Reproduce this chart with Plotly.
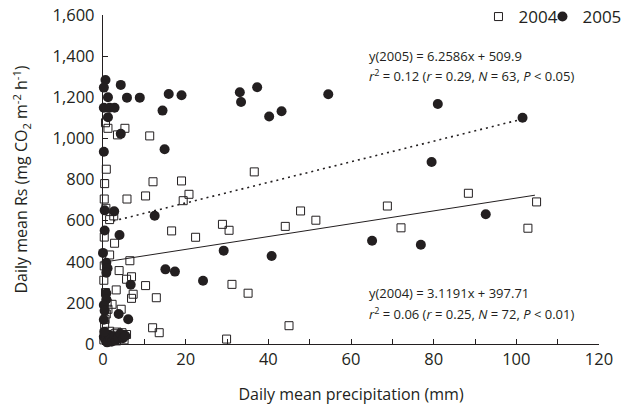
import plotly.graph_objects as go

# 2004 data (open squares)
x2004 = [0.6, 1.2, 3.5, 5.3, 11.3, 0.8, 0.4, 12.1, 19.0, 5.8, 10.3, 20.8, 19.4, 36.6,
         0.7, 2.6, 1.6, 16.6, 22.4, 28.9, 30.5, 44.1, 47.8, 51.5, 68.8, 72.1, 88.4,
         104.9, 102.8, 2.8, 1.6, 6.5, 3.9, 5.7, 6.9, 10.3, 3.2, 7.3, 6.9, 12.9, 31.2,
         35.1, 2.2, 4.4, 1.2, 0.8, 12.0, 13.6, 29.9, 45.0, 1.6, 3.4, 5.7,
         0.2, 0.5, 0.9, 1.3, 1.9, 2.4, 2.9, 3.3, 4.0, 4.6, 5.1, 0.4, 0.3, 0.6, 0.3,
         0.2, 0.5, 1.0, 0.3]
y2004 = [1076, 1049, 1017, 1049, 1012, 850, 780, 789, 793, 705, 720, 728, 697, 837,
         660, 623, 605, 550, 519, 582, 553, 572, 647, 602, 671, 565, 733,
         691, 563, 490, 433, 405, 357, 315, 327, 284, 263, 242, 222, 225, 290,
         247, 193, 169, 169, 146, 79, 55, 24, 89, 62, 58, 46,
         20, 45, 30, 10, 38, 25, 50, 15, 35, 55, 20, 95, 380, 250, 520,
         310, 120, 200, 705]

# 2005 data (filled circles)
x2005 = [0.6, 0.2, 4.3, 1.2, 5.8, 8.9, 15.9, 19.0, 0.2, 1.6, 2.8, 14.4, 1.2, 4.3,
         14.9, 0.2, 33.1, 33.4, 37.3, 40.2, 43.2, 54.5, 81.0, 101.5, 79.5, 92.6,
         76.9, 65.1, 40.8, 29.2, 24.2, 12.5, 15.1, 17.4, 0.4, 2.7, 0.4, 4.0, 0.0,
         0.8, 1.1, 0.8, 6.7, 0.8, 0.8, 0.2, 0.4, 3.8, 0.2, 6.1,
         0.2, 0.6, 1.0, 1.4, 1.8, 2.2, 2.7, 3.1, 3.6, 4.2, 4.8, 5.4, 0.3]
y2005 = [1284, 1247, 1260, 1200, 1198, 1198, 1216, 1210, 1149, 1149, 1149, 1135, 1103, 1022,
         947, 935, 1224, 1177, 1249, 1106, 1132, 1215, 1167, 1100, 885, 631,
         483, 502, 428, 454, 308, 624, 363, 352, 650, 645, 552, 530, 443,
         395, 368, 347, 288, 247, 217, 190, 162, 146, 118, 120,
         35, 20, 8, 45, 25, 12, 38, 18, 30, 50, 28, 40, 60]

# fitted lines as drawn (end points)
fit2004_x = [1.6, 104.5]
fit2004_y = [402.7, 723.7]
fit2005_x = [2.5, 101.5]
fit2005_y = [598, 1094]

x_ticks = [0, 20, 40, 60, 80, 100, 120]
y_ticks = [0, 200, 400, 600, 800, 1000, 1200, 1400, 1600]

INK = "#231f20"
FONT = "Open Sans"

fig = go.Figure()
fig.add_trace(go.Scatter(x=fit2004_x, y=fit2004_y, mode="lines",
                         line=dict(color=INK, width=1), showlegend=False))
fig.add_trace(go.Scatter(x=fit2005_x, y=fit2005_y, mode="lines",
                         line=dict(color=INK, width=1.6, dash="2px,4px"), showlegend=False))
fig.add_trace(go.Scatter(x=x2004, y=y2004, mode="markers", name="2004",
                         marker=dict(symbol="square-open", size=8, color=INK,
                                     line=dict(width=1, color=INK)),
                         cliponaxis=False, legend="legend"))
fig.add_trace(go.Scatter(x=x2005, y=y2005, mode="markers", name="2005",
                         marker=dict(symbol="circle", size=10, color=INK),
                         cliponaxis=False, legend="legend2"))

ann_font = dict(family=FONT, size=13, color=INK)
fig.add_annotation(xref="paper", yref="paper", x=0.532, y=(344 - 56) / 329, xanchor="left",
                   yanchor="middle", showarrow=False, font=ann_font,
                   text="y(2005) = 6.2586x + 509.9")
fig.add_annotation(xref="paper", yref="paper", x=0.532, y=(344 - 75) / 329, xanchor="left",
                   yanchor="middle", showarrow=False, font=ann_font,
                   text="<i>r</i><sup>2</sup> = 0.12 (<i>r</i> = 0.29, <i>N</i> = 63, <i>P</i> &lt; 0.05)")
fig.add_annotation(xref="paper", yref="paper", x=0.532, y=(344 - 293) / 329, xanchor="left",
                   yanchor="middle", showarrow=False, font=ann_font,
                   text="y(2004) = 3.1191x + 397.71")
fig.add_annotation(xref="paper", yref="paper", x=0.532, y=(344 - 313) / 329, xanchor="left",
                   yanchor="middle", showarrow=False, font=ann_font,
                   text="<i>r</i><sup>2</sup> = 0.06 (<i>r</i> = 0.25, <i>N</i> = 72, <i>P</i> &lt; 0.01)")

axis_common = dict(showline=True, linecolor=INK, linewidth=1.3, ticks="inside",
                   tickcolor=INK, tickwidth=1.2, ticklen=5, showgrid=False, zeroline=False,
                   automargin=False,
                   tickfont=dict(family=FONT, size=16.5, color=INK))

fig.update_layout(
    width=621, height=409,
    margin=dict(l=103, r=22, t=15, b=65, autoexpand=False),
    plot_bgcolor="white", paper_bgcolor="white",
    font=dict(family=FONT, color=INK),
    xaxis=dict(range=[0, 120], tickvals=x_ticks, ticktext=[str(v) for v in x_ticks],
               minor=dict(dtick=10, ticks="inside", ticklen=5, tickcolor=INK, tickwidth=1.2),
               title=dict(text="Daily mean precipitation (mm)",
                          font=dict(family=FONT, size=16, color=INK), standoff=19),
               **axis_common),
    yaxis=dict(range=[0, 1600], tickvals=y_ticks, ticktext=[f"{v:,}" for v in y_ticks],
               ticklabelstandoff=4,
               title=dict(text="Daily mean Rs (mg CO<sub>2</sub> m<sup>-2</sup> h<sup>-1</sup>)",
                          font=dict(family=FONT, size=16, color=INK), standoff=20),
               **axis_common),
    legend=dict(orientation="h", x=0.757, y=1 - 17 / 409, xref="paper", yref="container",
                xanchor="left", yanchor="middle",
                font=dict(family=FONT, size=17, color=INK), itemwidth=30,
                bgcolor="rgba(0,0,0,0)"),
    legend2=dict(orientation="h", x=0.886, y=1 - 17 / 409, xref="paper", yref="container",
                 xanchor="left", yanchor="middle",
                 font=dict(family=FONT, size=17, color=INK), itemwidth=30,
                 bgcolor="rgba(0,0,0,0)"),
)

fig.write_html("out.html", config={"displayModeBar": False},
               post_script="document.body.style.margin='0';")
